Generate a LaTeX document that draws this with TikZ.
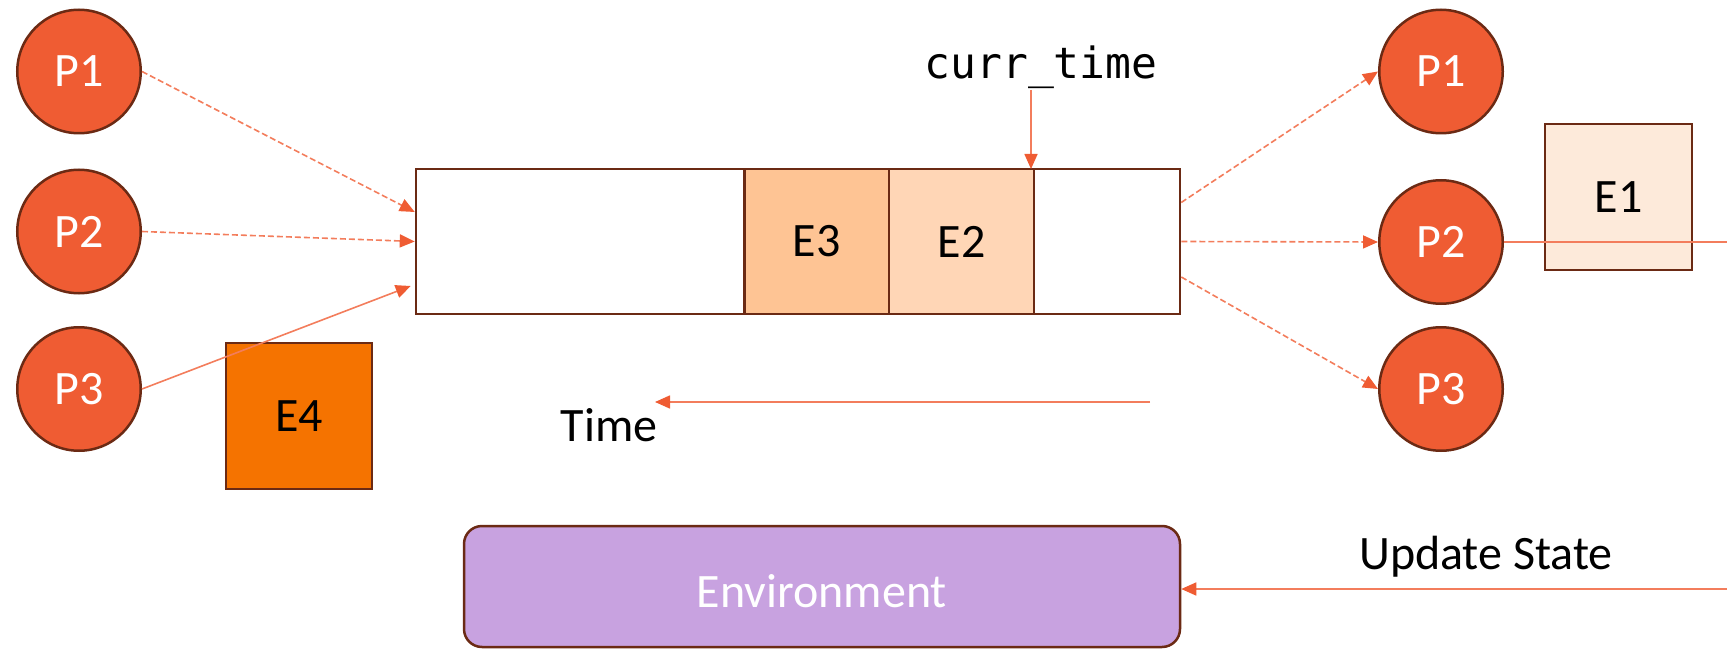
\documentclass[tikz,border=0pt]{standalone}
\usepackage{fontspec}
\setmainfont{Carlito}
\newfontfamily\codefont{DejaVu Sans Mono}
\usetikzlibrary{arrows.meta,calc}

\definecolor{procfill}{HTML}{EF5C33}
\definecolor{edge}{HTML}{6B2A14}
\definecolor{linkline}{HTML}{F37D5C}
\definecolor{tipfill}{HTML}{EF5C33}
\definecolor{evfour}{HTML}{F57300}
\definecolor{evthree}{HTML}{FEC494}
\definecolor{evtwo}{HTML}{FFD6B6}
\definecolor{evone}{HTML}{FDEADA}
\definecolor{envfill}{HTML}{C8A2E0}

\begin{document}
\begin{tikzpicture}[x=1pt,y=-1pt,
  every node/.style={font=\fontsize{48}{56}\selectfont},
  proc/.style={circle, draw=edge, line width=2.5pt, fill=procfill, text=white,
    minimum size=123.5pt, inner sep=0pt},
  slot/.style={rectangle, draw=edge, line width=2.5pt, minimum height=145pt, inner sep=0pt},
  eventbox/.style={rectangle, draw=edge, line width=2.5pt, minimum width=146pt,
    minimum height=146pt, inner sep=0pt},
  link/.style={draw=linkline, line width=1.6pt,
    -{Triangle[length=15pt,width=13pt,color=tipfill]}},
  dashlink/.style={link, dash pattern=on 6pt off 3pt},
  plainline/.style={draw=linkline, line width=1.6pt},
  txt/.style={inner sep=0pt, anchor=base}
]
\useasboundingbox (0,0) rectangle (1727,650);

% processes on the left
\node[proc] (lp1) at (79,71.5)  {P1};
\node[proc] (lp2) at (79,231.5) {P2};
\node[proc] (lp3) at (79,389)   {P3};

% processes on the right
\node[proc] (rp1) at (1441,71.5) {P1};
\node[proc] (rp2) at (1441,242)  {P2};
\node[proc] (rp3) at (1441,389)  {P3};

% event queue
\node[slot, minimum width=328.5pt] (slot0) at (580.25,241.5) {};
\node[slot, minimum width=144.5pt, fill=evthree] (e3) at (816.75,241.5) {E3};
\node[slot, minimum width=145pt, fill=evtwo] (e2) at (961.5,241.5) {E2};
\node[slot, minimum width=146pt] (slot3) at (1107,241.5) {};

% pending events
\node[eventbox, fill=evfour] (e4) at (299,416) {E4};
\node[eventbox, minimum width=147pt, fill=evone] (e1) at (1618.5,197) {E1};

% environment
\node[rectangle, rounded corners=18pt, draw=edge, line width=2.5pt, fill=envfill,
  text=white, text height=42pt, text depth=0pt,
  minimum width=716pt, minimum height=121pt] (env) at (822,586.5) {Environment};

% labels
\node[txt, font=\codefont\fontsize{43}{50}\selectfont] (curr) at (1041,79) {curr\_time};
\node[txt] (time) at (609,441) {Time};
\node[txt] (upd) at (1486,569) {Update State};

% connector end points
\coordinate (ct)    at (1031,90);
\coordinate (tick)  at (1031,169);
\coordinate (tstart) at (1150,402);
\coordinate (tend)  at (655,402);
\coordinate (out2)  at (1727,242);
\coordinate (in5)   at (1727,589);

% processes push events into the queue
\draw[dashlink] (lp1.east) -- ([yshift=29.5pt]slot0.west);
\draw[dashlink] (lp2.east) -- (slot0.west);
\draw[link] (lp3.east) -- ([xshift=-4pt,yshift=-44.5pt]slot0.west);

% queue dispatches events to processes
\draw[dashlink] ([yshift=39pt]slot3.east) -- (rp1.west);
\draw[dashlink] (slot3.east) -- (rp2.west);
\draw[dashlink] ([yshift=-35.5pt]slot3.east) -- (rp3.west);

% current time marker and time direction
\draw[link] (ct) -- (tick);
\draw[link] (tstart) -- (tend);

% state update loop
\draw[plainline] (rp2.east) -- (out2);
\draw[link] (in5) -- (in5 -| env.east);
\end{tikzpicture}
\end{document}
